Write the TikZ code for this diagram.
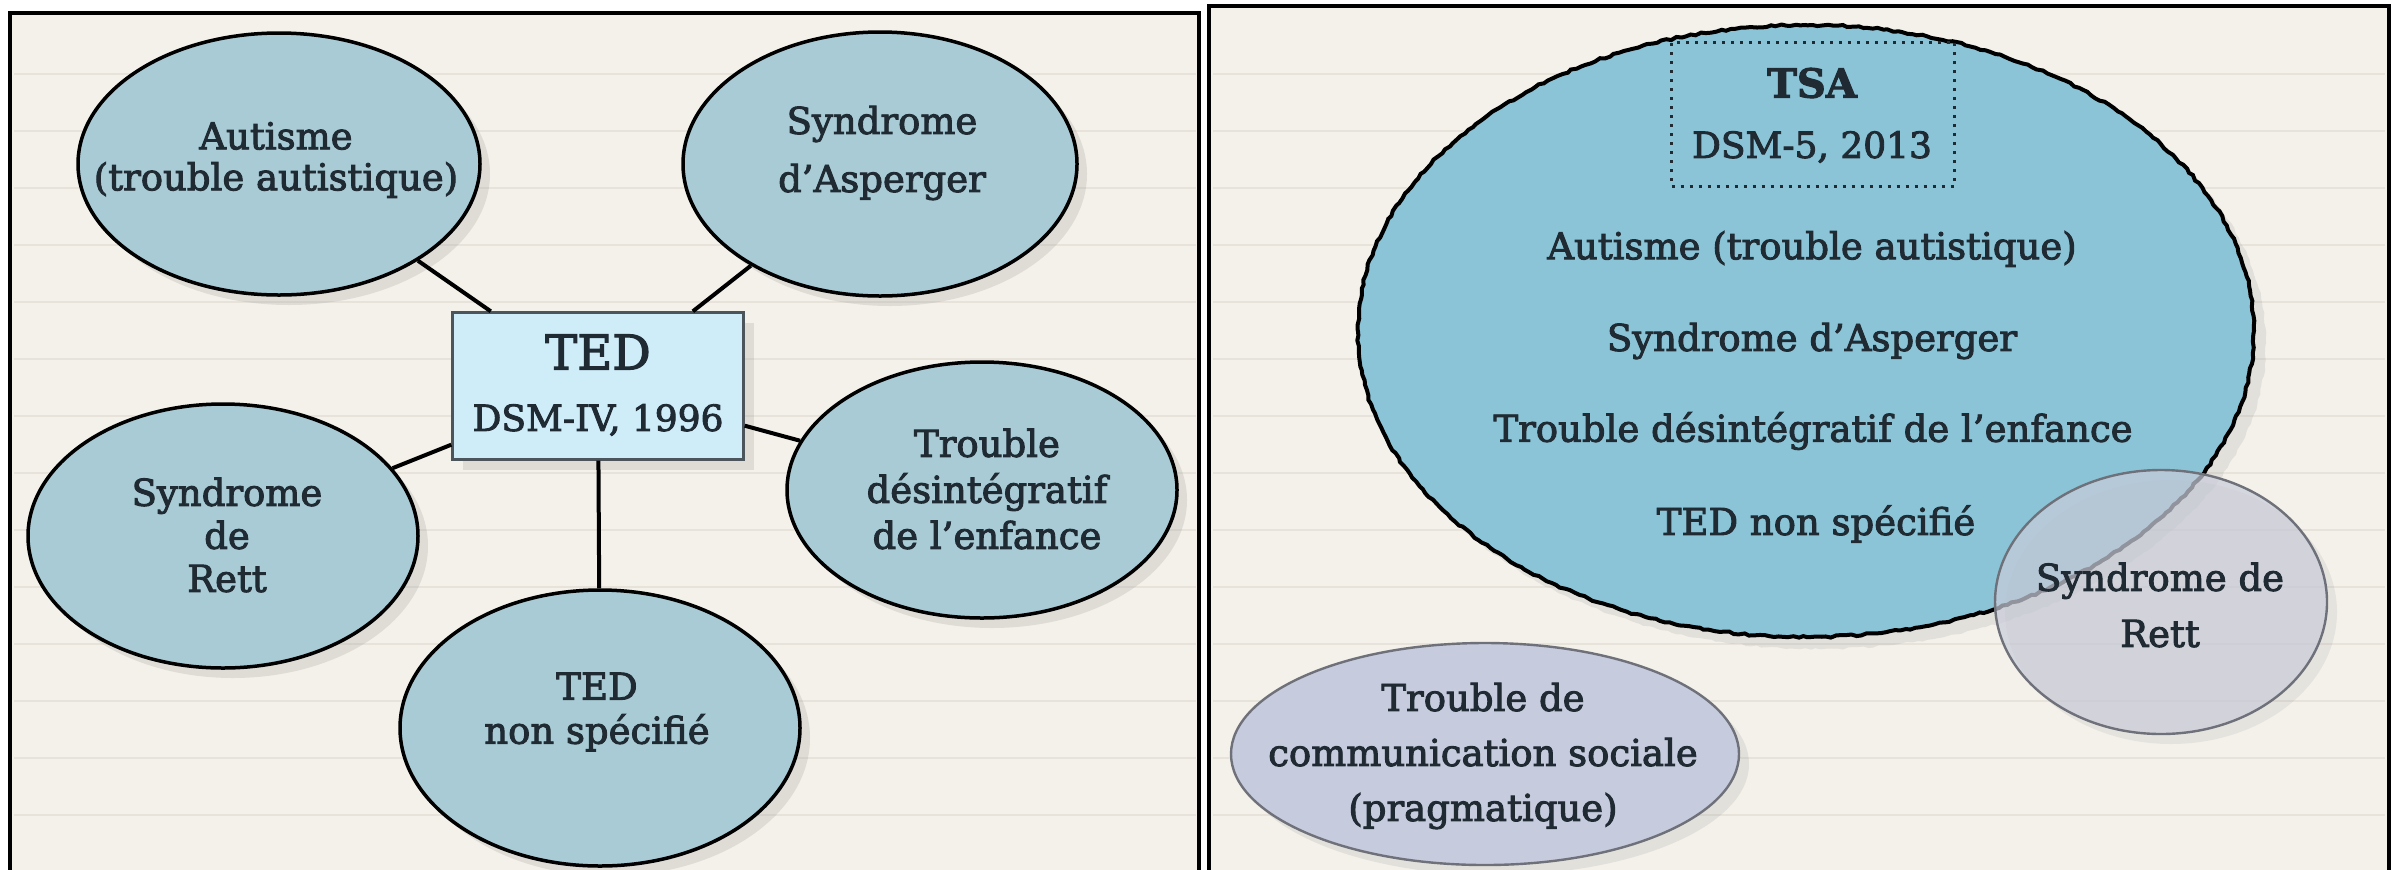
\documentclass[tikz,border=0pt]{standalone}
\usepackage{fontspec}
\setmainfont{DejaVu Serif}[FakeBold=2.5]
\usetikzlibrary{shapes.geometric,shadows,decorations.pathmorphing}

\definecolor{paper}{HTML}{F4F1EA}
\definecolor{ruleline}{HTML}{E7E3DB}
\definecolor{ellblue}{HTML}{A8CBD5}
\definecolor{boxblue}{HTML}{CFEDF9}
\definecolor{tsablue}{HTML}{8BC4D7}
\definecolor{rettgray}{HTML}{C9CCDA}
\definecolor{commgray}{HTML}{C6CBDD}
\definecolor{ink}{HTML}{1F2A33}
\definecolor{edgegray}{HTML}{6F717A}

\begin{document}
\begin{tikzpicture}[x=0.5pt, y=-0.5pt,
    bubble/.style={ellipse, draw=black, line width=1.75pt, fill=ellblue, inner sep=0pt,
        drop shadow={opacity=0.18, shadow xshift=5pt, shadow yshift=-5pt}},
    softbubble/.style={ellipse, draw=edgegray, line width=1.2pt, inner sep=0pt},
    link/.style={line width=2pt, black},
    txt/.style={align=center, text=ink, inner sep=0pt},
    frame/.style={line width=2pt, black}]

    % Page size and paper
    \useasboundingbox (0,0) rectangle (2402,869);
    \fill[white] (0,0) rectangle (2402,869);
    \fill[paper] (10,13) rectangle (1199,880);
    \fill[paper] (1209,6) rectangle (2389,880);

    % Ruled lines of the paper
    \foreach \y in {74,131,...,869} {
        \draw[ruleline, line width=1.2pt] (14,\y) -- (1196,\y);
        \draw[ruleline, line width=1.2pt] (1213,\y) -- (2385,\y);
    }

    % Panel frames
    \draw[frame] (10,880) -- (10,13) -- (1199,13) -- (1199,880);
    \draw[frame] (1209,880) -- (1209,6) -- (2389,6) -- (2389,880);

    %%% Left panel : DSM-IV
    \node[draw=ink!80, line width=1.2pt, fill=boxblue, minimum width=145.5pt, minimum height=73.5pt,
        drop shadow={opacity=0.18, shadow xshift=5pt, shadow yshift=-5pt}] (ted) at (598,386) {};
    \node[bubble, minimum width=201pt, minimum height=131pt] (aut) at (279,164) {};
    \node[bubble, minimum width=197pt, minimum height=132pt] (asp) at (880,164) {};
    \node[bubble, minimum width=195pt, minimum height=128pt] (des) at (982,490) {};
    \node[bubble, minimum width=195pt, minimum height=132pt] (rett) at (223,536) {};
    \node[bubble, minimum width=200pt, minimum height=138pt] (nsp) at (600,728) {};

    % Links from the centre box
    \foreach \n in {aut, asp, des, rett, nsp}
        \draw[link] (ted) -- (\n);

    % Texts of the left panel
    \node[txt, font=\fontsize{24}{26}\selectfont] (tedname) at (598,352) {TED};
    \node[txt, font=\fontsize{18}{20}\selectfont] (tedyear) at (598,420) {DSM-IV, 1996};
    \node[txt, font=\fontsize{18.5}{20.5}\selectfont] (autname) at (276,160) {Autisme\\(trouble autistique)};
    \node[txt, font=\fontsize{18.5}{29}\selectfont] (aspname) at (882,153) {Syndrome\\d’Asperger};
    \node[txt, font=\fontsize{18.5}{23}\selectfont] (desname) at (987,489) {Trouble\\désintégratif\\de l’enfance};
    \node[txt, font=\fontsize{18.5}{21.5}\selectfont] (rettname) at (227,535) {Syndrome\\de\\Rett};
    \node[txt, font=\fontsize{18.5}{22}\selectfont] (nspname) at (597,712) {TED\\non spécifié};

    %%% Right panel : DSM-5
    \pgfmathsetseed{7}
    \node[ellipse, draw=black, line width=2pt, fill=tsablue, inner sep=0pt,
        minimum width=448pt, minimum height=306pt,
        decorate, decoration={random steps, segment length=2.5pt, amplitude=0.5pt},
        drop shadow={opacity=0.15, shadow xshift=6pt, shadow yshift=-6pt}] (tsa) at (1806,331) {};
    \node[draw=ink, line width=1.5pt, dash pattern=on 1.5pt off 3pt, minimum width=141.5pt, minimum height=72pt] (tsabox) at (1813,114) {};
    \node[txt, font=\fontsize{20}{24}\selectfont\bfseries] (tsaname) at (1812,83) {TSA};
    \node[txt, font=\fontsize{18}{22}\selectfont] (tsayear) at (1812,147) {DSM-5, 2013};

    % Disorders merged in TSA
    \node[txt, font=\fontsize{18.5}{22}\selectfont] (l1) at (1812,249) {Autisme (trouble autistique)};
    \node[txt, font=\fontsize{18.5}{22}\selectfont] (l2) at (1812,341) {Syndrome d’Asperger};
    \node[txt, font=\fontsize{18.5}{22}\selectfont] (l3) at (1813,431) {Trouble désintégratif de l’enfance};
    \node[txt, font=\fontsize{18.5}{22}\selectfont] (l4) at (1816,524) {TED non spécifié};

    % Rett and social communication
    \node[softbubble, fill=rettgray, fill opacity=0.7, minimum width=166pt, minimum height=132pt,
        drop shadow={opacity=0.12, shadow xshift=5pt, shadow yshift=-5pt}] (rett2) at (2161,602) {};
    \node[softbubble, fill=commgray, minimum width=254pt, minimum height=111pt,
        drop shadow={opacity=0.15, shadow xshift=5pt, shadow yshift=-5pt}] (comm) at (1485,754) {};
    \node[txt, font=\fontsize{18.5}{28}\selectfont] (rett2name) at (2160,605) {Syndrome de\\Rett};
    \node[txt, font=\fontsize{18.5}{27.5}\selectfont] (commname) at (1483,756) {Trouble de\\communication sociale\\(pragmatique)};

\end{tikzpicture}
\end{document}
